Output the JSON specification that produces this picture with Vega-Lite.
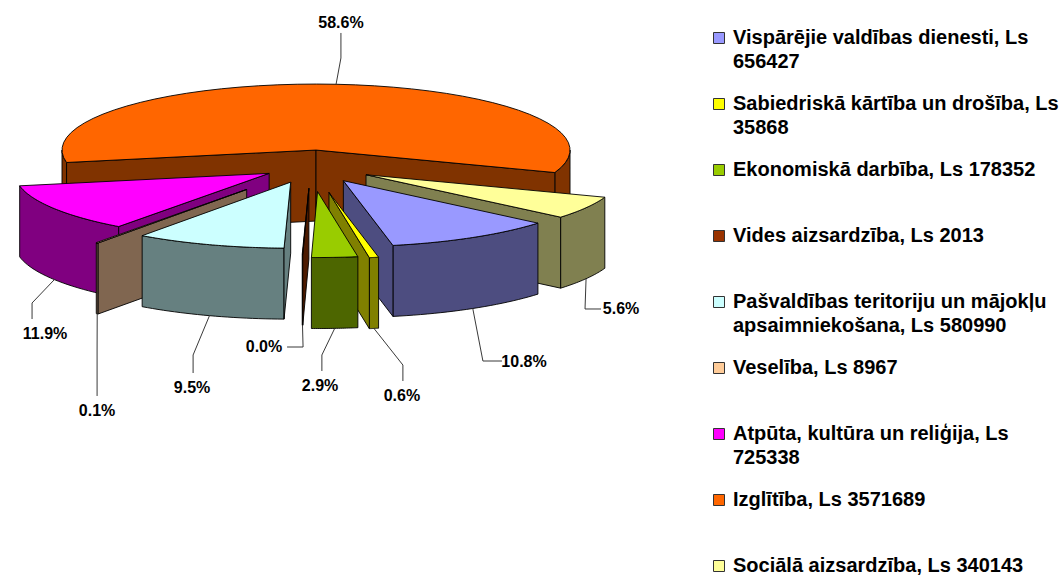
{
  "$schema": "https://vega.github.io/schema/vega-lite/v6.json",
  "width": 1064,
  "height": 576,
  "padding": 0,
  "autosize": {"type": "none"},
  "background": "white",
  "config": {"view": {"stroke": null}, "font": "Liberation Sans", "style": {"guide-label": {"lineHeight": 24}}},
  "data": {"values": [
    {"category": "Izglītība, Ls 3571689", "rank": 8, "value": 3571689},
    {"category": "Sociālā aizsardzība, Ls 340143", "rank": 9, "value": 340143},
    {"category": "Vispārējie valdības dienesti, Ls 656427", "rank": 1, "value": 656427},
    {"category": "Sabiedriskā kārtība un drošība, Ls 35868", "rank": 2, "value": 35868},
    {"category": "Ekonomiskā darbība, Ls 178352", "rank": 3, "value": 178352},
    {"category": "Atpūta, kultūra un reliģija, Ls 725338", "rank": 7, "value": 725338},
    {"category": "Veselība, Ls 8967", "rank": 6, "value": 8967},
    {"category": "Pašvaldības teritoriju un mājokļu apsaimniekošana, Ls 580990", "rank": 5, "value": 580990},
    {"category": "Vides aizsardzība, Ls 2013", "rank": 4, "value": 2013}
  ]},
  "transform": [
    {"joinaggregate": [{"op": "sum", "field": "value", "as": "total"}]},
    {"window": [{"op": "sum", "field": "value", "as": "cum"}], "sort": [{"field": "rank", "order": "ascending"}], "frame": [null, 0]},
    {"calculate": "130 + 360 * datum.cum / datum.total", "as": "a2"},
    {"calculate": "datum.a2 - 360 * datum.value / datum.total", "as": "a1"},
    {"calculate": "(datum.a1 + datum.a2) / 2 * PI / 180", "as": "mid"},
    {"calculate": "[0.25, 0.40, 0.38, 0.33, 0.25, 0.43, 0.195, 0.25, 0.25][datum.rank - 1]", "as": "explode"},
    {"calculate": "datum.explode * sin(datum.mid)", "as": "ox"},
    {"calculate": "datum.explode * cos(datum.mid)", "as": "oy"}
  ],
  "layer": [
    {
      "transform": [
        {"calculate": "['outer', 'outer2', 'wallA', 'wallB', 'top']", "as": "face"},
        {"flatten": ["face"]},
        {"filter": "(datum.face !== 'wallA' || sin(datum.a1 * PI / 180) < 0) && (datum.face !== 'wallB' || sin(datum.a2 * PI / 180) > 0) && (datum.face !== 'outer2' || datum.a2 > 450) && (datum.face !== 'outer' || datum.a1 < 270)"},
        {"calculate": "datum.face === 'outer' || datum.face === 'outer2'", "as": "ribbon"},
        {"calculate": "datum.face === 'outer' ? max(datum.a1, 90) : datum.face === 'outer2' ? max(datum.a1, 450) : datum.a1", "as": "lo"},
        {"calculate": "datum.face === 'outer' ? min(datum.a2, 270) : datum.a2", "as": "hi"},
        {"calculate": "sequence(0, 51)", "as": "k"},
        {"flatten": ["k"]},
        {"filter": "datum.k <= 4 || datum.face === 'top' || datum.ribbon"},
        {"calculate": "datum.face === 'top' ? ((datum.k === 0 || datum.k === 50) ? 0 : 1) : datum.ribbon ? 1 : ((datum.k === 1 || datum.k === 2) ? 1 : 0)", "as": "rim"},
        {"calculate": "datum.face === 'wallA' ? datum.a1 : datum.face === 'wallB' ? datum.a2 : datum.face === 'top' ? datum.lo + (datum.hi - datum.lo) * clamp((datum.k - 1) / 48, 0, 1) : datum.lo + (datum.hi - datum.lo) * (datum.k <= 24 ? datum.k / 24 : datum.k <= 49 ? (49 - datum.k) / 24 : 0)", "as": "ang"},
        {"calculate": "datum.face === 'top' ? 0 : datum.ribbon ? ((datum.k >= 25 && datum.k <= 49) ? 1 : 0) : ((datum.k === 2 || datum.k === 3) ? 1 : 0)", "as": "deep"},
        {"calculate": "datum.ox + datum.rim * sin(datum.ang * PI / 180)", "as": "px"},
        {"calculate": "datum.oy + datum.rim * cos(datum.ang * PI / 180) - datum.deep * 1.0758", "as": "py"},
        {"calculate": "datum.face === 'top' ? datum.category : datum.category + ' (sāni)'", "as": "paint"},
        {"calculate": "datum.category + ' ' + datum.face", "as": "poly"}
      ],
      "mark": {"type": "line", "stroke": "#000000", "strokeWidth": 0.9, "strokeJoin": "round", "interpolate": "linear", "clip": false},
      "encoding": {
        "x": {"field": "px", "type": "quantitative", "scale": {"domain": [-1.2244, 2.9645], "nice": false, "zero": false}, "axis": null},
        "y": {"field": "py", "type": "quantitative", "scale": {"domain": [-6.2045, 2.5227], "nice": false, "zero": false}, "axis": null},
        "detail": {"field": "poly", "type": "nominal"},
        "order": {"field": "k", "type": "quantitative"},
        "fill": {
          "field": "paint",
          "type": "nominal",
          "scale": {
            "domain": [
              "Vispārējie valdības dienesti, Ls 656427",
              "Sabiedriskā kārtība un drošība, Ls 35868",
              "Ekonomiskā darbība, Ls 178352",
              "Vides aizsardzība, Ls 2013",
              "Pašvaldības teritoriju un mājokļu apsaimniekošana, Ls 580990",
              "Veselība, Ls 8967",
              "Atpūta, kultūra un reliģija, Ls 725338",
              "Izglītība, Ls 3571689",
              "Sociālā aizsardzība, Ls 340143",
              "Vispārējie valdības dienesti, Ls 656427 (sāni)",
              "Sabiedriskā kārtība un drošība, Ls 35868 (sāni)",
              "Ekonomiskā darbība, Ls 178352 (sāni)",
              "Vides aizsardzība, Ls 2013 (sāni)",
              "Pašvaldības teritoriju un mājokļu apsaimniekošana, Ls 580990 (sāni)",
              "Veselība, Ls 8967 (sāni)",
              "Atpūta, kultūra un reliģija, Ls 725338 (sāni)",
              "Izglītība, Ls 3571689 (sāni)",
              "Sociālā aizsardzība, Ls 340143 (sāni)"
            ],
            "range": ["#9999FF", "#FFFF00", "#99CC00", "#993300", "#CCFFFF", "#FFCC99", "#FF00FF", "#FF6600", "#FFFF99",
                      "#4D4D80", "#808000", "#4D6600", "#4D1A00", "#668080", "#806650", "#800080", "#803300", "#808050"]
          },
          "legend": {
            "title": null,
            "orient": "none",
            "legendX": 709,
            "legendY": 28,
            "values": [
              "Vispārējie valdības dienesti, Ls 656427",
              "Sabiedriskā kārtība un drošība, Ls 35868",
              "Ekonomiskā darbība, Ls 178352",
              "Vides aizsardzība, Ls 2013",
              "Pašvaldības teritoriju un mājokļu apsaimniekošana, Ls 580990",
              "Veselība, Ls 8967",
              "Atpūta, kultūra un reliģija, Ls 725338",
              "Izglītība, Ls 3571689",
              "Sociālā aizsardzība, Ls 340143"
            ],
            "symbolType": "square",
            "symbolSize": 121,
            "symbolStrokeColor": "#333333",
            "symbolStrokeWidth": 1,
            "symbolOpacity": 1,
            "gridAlign": "all",
            "rowPadding": 22,
            "labelFont": "Liberation Sans",
            "labelFontWeight": "bold",
            "labelFontSize": 20,
            "labelColor": "#000000",
            "labelLimit": 400,
            "labelOffset": 4,
            "labelExpr": "split(replace(replace(replace(replace(datum.label, 'mājokļu ', 'mājokļu|'), 'dienesti, Ls ', 'dienesti, Ls|'), 'drošība, Ls ', 'drošība, Ls|'), 'reliģija, Ls ', 'reliģija, Ls|'), '|')"
          }
        }
      }
    },
    {
      "transform": [
        {"calculate": "[0, 1, 2]", "as": "k"},
        {"flatten": ["k"]},
        {"calculate": "datum.k === 0 ? datum.ox + sin(datum.mid) : 0.0098 + (datum.k === 1 ? [0.667, 0.352, 0.033, -0.041, -0.474, -0.852, -1.108, 0.108, 1.069][datum.rank - 1] : [0.742, 0.352, 0.033, -0.104, -0.474, -0.852, -1.108, 0.108, 1.132][datum.rank - 1])", "as": "px"},
        {"calculate": "datum.k === 0 ? datum.oy + cos(datum.mid) - (cos(datum.mid) < 0 ? 1.0758 : 0) : datum.k === 1 ? [-2.947, -3.008, -2.856, -2.735, -2.856, -2.780, -2.068, 1.644, -2.159][datum.rank - 1] : [-2.947, -3.250, -3.098, -2.735, -3.129, -3.477, -2.311, 2.023, -2.159][datum.rank - 1]", "as": "py"}
      ],
      "mark": {"type": "line", "color": "#222222", "strokeWidth": 0.9},
      "encoding": {
        "x": {"field": "px", "type": "quantitative", "axis": null},
        "y": {"field": "py", "type": "quantitative", "axis": null},
        "detail": {"field": "rank", "type": "nominal"},
        "order": {"field": "k", "type": "quantitative"}
      }
    },
    {
      "transform": [
        {"calculate": "format(datum.value / datum.total, '.1%')", "as": "share"},
        {"calculate": "0.0098 + [0.829, 0.348, 0.026, -0.195, -0.478, -0.852, -1.057, 0.108, 1.211][datum.rank - 1]", "as": "px"},
        {"calculate": "[-2.962, -3.477, -3.326, -2.735, -3.356, -3.705, -2.538, 2.174, -2.159][datum.rank - 1]", "as": "py"}
      ],
      "mark": {"type": "text", "align": "center", "baseline": "middle", "font": "Liberation Sans", "fontWeight": "bold", "fontSize": 16, "color": "#000000"},
      "encoding": {
        "x": {"field": "px", "type": "quantitative", "axis": null},
        "y": {"field": "py", "type": "quantitative", "axis": null},
        "text": {"field": "share", "type": "nominal"}
      }
    }
  ]
}
